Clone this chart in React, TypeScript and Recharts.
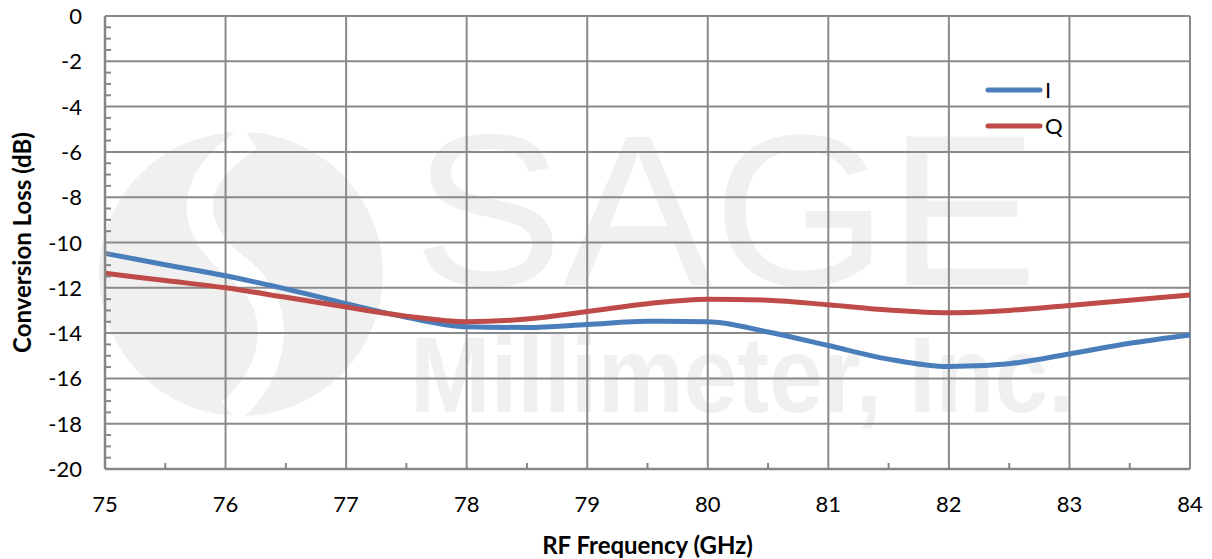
import React from 'react'
import { CartesianGrid, Legend, Line, LineChart, XAxis, YAxis } from 'recharts'

// RF frequency (GHz), read every half GHz
const freq = [75, 75.5, 76, 76.5, 77, 77.5, 78, 78.5, 79, 79.5, 80, 80.5, 81, 81.5, 82, 82.5, 83, 83.5, 84]
// conversion loss (dB)
const lossI = [-10.48, -10.98, -11.47, -12.05, -12.7, -13.3, -13.72, -13.75, -13.62, -13.48, -13.5, -13.95, -14.55, -15.15, -15.48, -15.35, -14.92, -14.45, -14.08]
const lossQ = [-11.36, -11.68, -12.0, -12.42, -12.85, -13.25, -13.5, -13.38, -13.05, -12.7, -12.5, -12.55, -12.75, -12.98, -13.1, -13.0, -12.78, -12.55, -12.32]

const xMajor = [75, 76, 77, 78, 79, 80, 81, 82, 83, 84]
const yMajor = [0, -2, -4, -6, -8, -10, -12, -14, -16, -18, -20]

const xTicks = Array.from({ length: 19 }, (_, i) => 75 + i * 0.5)
const yTicks = Array.from({ length: 41 }, (_, i) => -i * 0.5)

const data = freq.map((f, i) => ({ f, I: lossI[i], Q: lossQ[i] }))

const FONT = 'Lato, "Open Sans", sans-serif'
const AXIS = '#868686'
const BLUE = '#4a7ebb'
const RED = '#be4b48'

const XTick = (props: any) => {
    const { x, y, payload } = props
    const v = payload.value
    if (Number.isInteger(v)) {
        return (
            <text x={x} y={y + 43} textAnchor="middle" fontSize={22} fontFamily={FONT} fill="#000">
                {v}
            </text>
        )
    }
    return <line x1={x} y1={y} x2={x} y2={y - 6} stroke={AXIS} strokeWidth={2} />
}

const YTick = (props: any) => {
    const { x, y, payload } = props
    const v = payload.value
    if (yMajor.includes(v)) {
        return (
            <text x={x - 23} y={y + 8} textAnchor="end" fontSize={22} fontFamily={FONT} fill="#000">
                {v}
            </text>
        )
    }
    return <line x1={x} y1={y} x2={x + 6} y2={y} stroke={AXIS} strokeWidth={2} />
}

const renderLegend = () => (
    <div style={{ fontFamily: FONT, fontSize: 22, lineHeight: '36px' }}>
        {[
            { name: 'I', color: BLUE },
            { name: 'Q', color: RED },
        ].map((s) => (
            <div key={s.name} style={{ display: 'flex', alignItems: 'center' }}>
                <svg width={60} height={10}>
                    <line x1={4} y1={5} x2={56} y2={5} stroke={s.color} strokeWidth={5} strokeLinecap="round" />
                </svg>
                <span style={{ marginLeft: 1 }}>{s.name}</span>
            </div>
        ))}
    </div>
)

const Watermark = () => (
    <svg width={1212} height={559} style={{ position: 'absolute', left: 0, top: 0 }}>
        <circle cx={241} cy={274} r={142} fill="#f0f0f0" />
        <path d="M 250 138 C 170 190, 200 240, 240 270 C 285 305, 280 370, 230 412" stroke="#fff" strokeWidth={26} fill="none" />
        <text x={413} y={285} fontSize={216} fontFamily="'Liberation Sans', Arial, sans-serif" fill="#f0f0f0" textLength={625} lengthAdjust="spacingAndGlyphs">
            SAGE
        </text>
        <text x={410} y={412} fontSize={107} fontWeight="bold" fontFamily="'Liberation Sans', Arial, sans-serif" fill="#f0f0f0" textLength={665} lengthAdjust="spacingAndGlyphs">
            Millimeter, Inc.
        </text>
    </svg>
)

const App = () => {
    return (
        <div style={{ position: 'absolute', left: 0, top: 0, width: 1212, height: 559, background: '#fff' }}>
            <Watermark />
            <div style={{ position: 'absolute', left: 0, top: 0 }}>
                <LineChart width={1212} height={559} data={data} margin={{ top: 16, right: 22, bottom: 0, left: 0 }}>
                    <CartesianGrid stroke="#8a8a8a" strokeWidth={2} horizontalValues={yMajor} verticalValues={xMajor} />
                    <XAxis
                        dataKey="f"
                        type="number"
                        domain={[75, 84]}
                        ticks={xTicks}
                        interval={0}
                        height={90}
                        tickSize={0}
                        tickMargin={0}
                        tickLine={false}
                        axisLine={{ stroke: AXIS, strokeWidth: 2.5 }}
                        tick={<XTick />}
                        label={{ value: 'RF Frequency (GHz)', position: 'insideBottom', offset: 5, fontSize: 24, fontWeight: 'bold', fontFamily: FONT, fill: '#000' }}
                    />
                    <YAxis
                        type="number"
                        domain={[-20, 0]}
                        ticks={yTicks}
                        interval={0}
                        width={105}
                        tickSize={0}
                        tickMargin={0}
                        tickLine={false}
                        axisLine={{ stroke: AXIS, strokeWidth: 2.5 }}
                        tick={<YTick />}
                        label={{ value: 'Conversion Loss (dB)', angle: -90, position: 'insideLeft', offset: 22, style: { textAnchor: 'middle' }, fontSize: 24, fontWeight: 'bold', fontFamily: FONT, fill: '#000' }}
                    />
                    <Legend
                        layout="vertical"
                        align="center"
                        verticalAlign="middle"
                        wrapperStyle={{ left: 984, top: 72, width: 120 }}
                        content={renderLegend}
                    />
                    <Line type="monotone" dataKey="I" stroke={BLUE} strokeWidth={5} dot={false} isAnimationActive={false} />
                    <Line type="monotone" dataKey="Q" stroke={RED} strokeWidth={5} dot={false} isAnimationActive={false} />
                </LineChart>
            </div>
        </div>
    )
}

export default App
